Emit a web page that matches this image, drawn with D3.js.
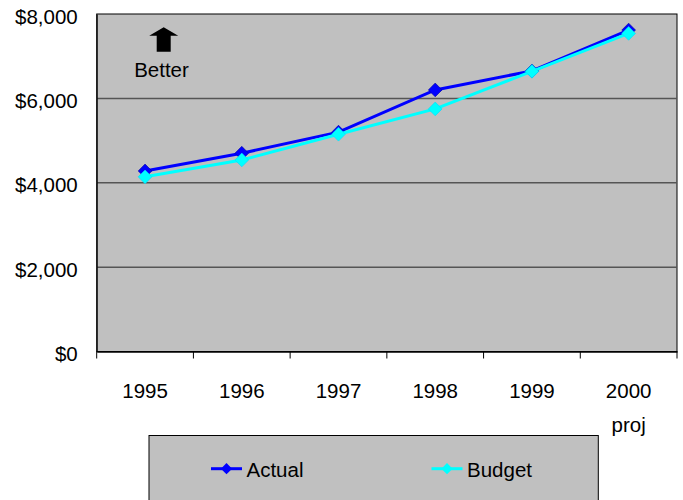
<!DOCTYPE html>
<html>
<head>
<meta charset="utf-8">
<script src="https://cdn.jsdelivr.net/npm/d3@7"></script>
<style>
  body { margin: 0; background: #fff; }
  svg text { font-family: "Liberation Sans", Arial, sans-serif; fill: #000; }
</style>
</head>
<body>
<div id="chart"></div>
<script>
// data
const years = ['1995', '1996', '1997', '1998', '1999', '2000'];
const yearLabels = [['1995'], ['1996'], ['1997'], ['1998'], ['1999'], ['2000', 'proj']];
const actual = [4280, 4700, 5200, 6200, 6650, 7620];
const budget = [4140, 4540, 5150, 5750, 6640, 7540];
const yTicks = [0, 2000, 4000, 6000, 8000];
const seriesNames = ['Actual', 'Budget'];
const seriesColors = ['#0000ff', '#00ffff'];

const width = 683;
const height = 500;
const margin = { top: 14, right: 6, bottom: 148.5, left: 96.7 };
const plotW = width - margin.left - margin.right;
const plotH = height - margin.top - margin.bottom;
const fontSize = '20.5px';

const svg = d3.select('#chart')
  .append('svg')
  .attr('width', width)
  .attr('height', height);

const x = d3.scaleBand().domain(years).range([0, plotW]).padding(0);
const y = d3.scaleLinear().domain([0, 8000]).range([plotH, 0]);

const g = svg.append('g')
  .attr('transform', `translate(${margin.left},${margin.top})`);

// plot background
g.append('rect')
  .attr('width', plotW)
  .attr('height', plotH)
  .attr('fill', '#c0c0c0')
  .attr('stroke', '#000')
  .attr('stroke-width', 1);

// gridlines
g.append('g')
  .selectAll('line')
  .data(yTicks.filter((d) => d > 0 && d < 8000))
  .enter()
  .append('line')
  .attr('x1', 0)
  .attr('x2', plotW)
  .attr('y1', (d) => y(d))
  .attr('y2', (d) => y(d))
  .attr('stroke', '#555')
  .attr('stroke-width', 1.5);

// y axis labels
const yAxis = d3.axisLeft(y)
  .tickValues(yTicks)
  .tickSize(0)
  .tickPadding(19)
  .tickFormat((d) => '$' + d3.format(',')(d));
g.append('g')
  .attr('class', 'y axis')
  .call(yAxis)
  .call((s) => s.select('.domain').attr('stroke', '#000'))
  .selectAll('text')
  .style('font-size', fontSize)
  .attr('dy', '0.45em');

// x axis with ticks at band edges
const xAxis = d3.axisBottom(x).tickSize(0).tickFormat('');
const xg = g.append('g')
  .attr('class', 'x axis')
  .attr('transform', `translate(0,${plotH})`)
  .call(xAxis);
xg.select('.domain').attr('stroke', '#000').attr('stroke-width', 1.5);
xg.selectAll('.edge')
  .data(d3.range(years.length + 1))
  .enter()
  .append('line')
  .attr('class', 'edge')
  .attr('x1', (i) => i * x.bandwidth())
  .attr('x2', (i) => i * x.bandwidth())
  .attr('y1', 0)
  .attr('y2', 7)
  .attr('stroke', '#000')
  .attr('stroke-width', 1);

xg.selectAll('.tick').each(function (d, i) {
  const t = d3.select(this).append('text')
    .attr('text-anchor', 'middle')
    .style('font-size', fontSize)
    .attr('y', 46.5);
  yearLabels[i].forEach((line, j) => {
    t.append('tspan').attr('x', 0).attr('dy', j === 0 ? 0 : 33.5).text(line);
  });
});

// lines and markers
const diamond = d3.symbol().type(d3.symbolDiamond2);
[actual, budget].forEach((vals, k) => {
  const pts = years.map((yr, i) => [x(yr) + x.bandwidth() / 2, y(vals[i])]);
  g.append('path')
    .attr('d', d3.line()(pts))
    .attr('fill', 'none')
    .attr('stroke', seriesColors[k])
    .attr('stroke-width', 3);
  g.selectAll(`.m${k}`)
    .data(pts)
    .enter()
    .append('path')
    .attr('class', `m${k}`)
    .attr('transform', (d) => `translate(${d[0]},${d[1]})`)
    .attr('d', diamond.size(120)())
    .attr('fill', seriesColors[k])
    .attr('stroke', k === 0 ? '#0000a0' : '#00d8ff')
    .attr('stroke-width', 0.6);
});

// "Better" arrow
const arrow = svg.append('g').attr('transform', 'translate(163.7,27.3)');
arrow.append('path')
  .attr('d', 'M0,0 L14.5,8.4 L7,8.4 L7,24.4 L-7,24.4 L-7,8.4 L-14.5,8.4 Z')
  .attr('fill', '#000');
svg.append('text')
  .attr('x', 161.5)
  .attr('y', 77.3)
  .attr('text-anchor', 'middle')
  .style('font-size', fontSize)
  .text('Better');

// legend
const legend = svg.append('g').attr('transform', 'translate(149,435.5)');
legend.append('rect')
  .attr('width', 449.3)
  .attr('height', 80)
  .attr('fill', '#c0c0c0')
  .attr('stroke', '#000')
  .attr('stroke-width', 1);
const legendX = [62, 282.5];
seriesNames.forEach((name, k) => {
  const li = legend.append('g').attr('transform', `translate(${legendX[k]},33.2)`);
  li.append('line')
    .attr('x1', 0).attr('x2', 31)
    .attr('stroke', seriesColors[k])
    .attr('stroke-width', 3);
  li.append('path')
    .attr('transform', 'translate(15.5,0)')
    .attr('d', diamond.size(80)())
    .attr('fill', seriesColors[k]);
  li.append('text')
    .attr('x', 35.5)
    .attr('y', 7.8)
    .style('font-size', fontSize)
    .text(name);
});
</script>
</body>
</html>
